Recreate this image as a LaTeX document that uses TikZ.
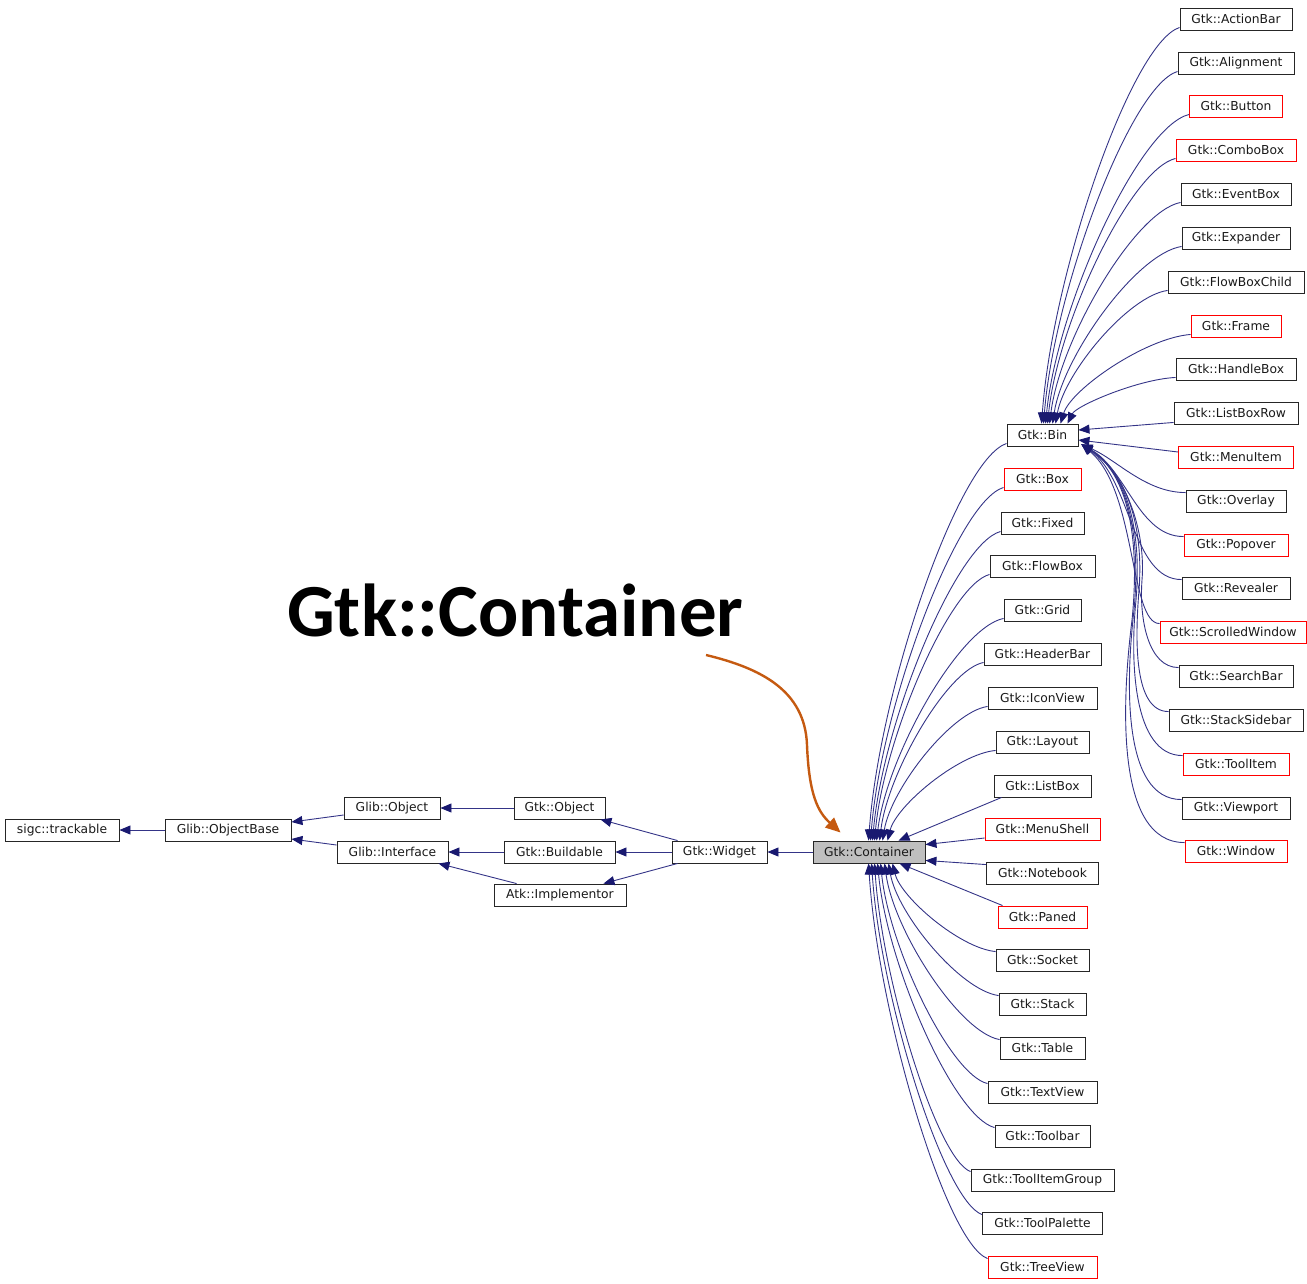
\documentclass[tikz,border=0pt]{standalone}
\usepackage{fontspec}
\newfontfamily\clsfont{DejaVu Sans}
\newfontfamily\titlefont{Carlito}
\usetikzlibrary{arrows.meta}
\definecolor{edgeblue}{RGB}{25,25,112}
\definecolor{edgeline}{RGB}{52,52,135}
\definecolor{pointer}{RGB}{197,90,17}
\definecolor{current}{RGB}{191,191,191}
\tikzset{
  cls/.style={draw=black!85, line width=0.9pt, minimum height=22, inner xsep=1pt,
    inner ysep=0pt, font=\clsfont\fontsize{12.3pt}{14pt}\selectfont, text=black!90},
  edge/.style={draw=edgeline, line width=0.9pt,
    -{Triangle[length=11pt,width=9pt,color=edgeblue,fill=edgeblue]}},
  pointerarrow/.style={draw=pointer, line width=2.4pt,
    -{Triangle[length=15pt,width=13pt]}}
}
\begin{document}
\begin{tikzpicture}[x=1pt,y=1pt]
\useasboundingbox (0,0) rectangle (1307,-1283);

% ancestors
\node[cls, minimum width=114] (track) at (62,-830) {sigc::trackable};
\node[cls, minimum width=126] (gbase) at (228,-830) {Glib::ObjectBase};
\node[cls, minimum width=96]  (globj) at (392,-808) {Glib::Object};
\node[cls, minimum width=111] (gint)  at (392.5,-852) {Glib::Interface};
\node[cls, minimum width=91]  (gtkobj) at (559.5,-808) {Gtk::Object};
\node[cls, minimum width=111] (build) at (559.5,-852) {Gtk::Buildable};
\node[cls, minimum width=132] (atk)   at (560,-895) {Atk::Implementor};
\node[cls, minimum width=95]  (widget) at (719.5,-852) {Gtk::Widget};
\node[cls, minimum width=112, fill=current] (cont) at (869,-852) {Gtk::Container};

% direct subclasses of Gtk::Container
\foreach \n/\t/\y/\w/\c in {
  bin/Bin/435/71/black!85, bx/Box/479/77/red, fx/Fixed/523/83/black!85,
  fb/FlowBox/566/105/black!85, gr/Grid/610/77/black!85, hd/HeaderBar/654/117/black!85,
  iv/IconView/698/109/black!85, ly/Layout/742/93/black!85, lb/ListBox/786/97/black!85,
  ms/MenuShell/829/115/red, nb/Notebook/873/112/black!85, pn/Paned/917/89/red,
  so/Socket/960/93/black!85, st/Stack/1004/87/black!85, tb/Table/1048/85/black!85,
  tv/TextView/1092/109/black!85, tlb/Toolbar/1136/95/black!85,
  tig/ToolItemGroup/1180/143/black!85, tp/ToolPalette/1223/120/black!85,
  tr/TreeView/1267/109/red}
  \node[cls, draw=\c, minimum width=\w] (\n) at (1042.5,-\y) {Gtk::\t};

% subclasses of Gtk::Bin
\foreach \n/\t/\y/\w/\c/\x in {
  ab/ActionBar/19/112/black!85/1236, al/Alignment/63/116/black!85/1236,
  bt/Button/106/93/red/1236, cb/ComboBox/150/120/red/1236,
  eb/EventBox/194/110/black!85/1236, xp/Expander/238/108/black!85/1236,
  fbc/FlowBoxChild/282/136/black!85/1236, fr/Frame/326/90/red/1236,
  hb/HandleBox/369/120/black!85/1236, lbr/ListBoxRow/413/124/black!85/1236,
  mi/MenuItem/457/115/red/1236, ov/Overlay/501/100/black!85/1236,
  po/Popover/545/104/red/1236, rv/Revealer/588/108/black!85/1236,
  sw/ScrolledWindow/632/146/red/1233, sb/SearchBar/676/114/black!85/1236,
  ss/StackSidebar/720/134/black!85/1236, ti/ToolItem/764/106/red/1236,
  vp/Viewport/808/108/black!85/1236, win/Window/851/102/red/1236}
  \node[cls, draw=\c, minimum width=\w] (\n) at (\x,-\y) {Gtk::\t};

% inheritance edges of the ancestor chain
\draw[edge] (gbase.west) -- (track.east);
\draw[edge] ([yshift=-7]globj.west) -- ([yshift=8]gbase.east);
\draw[edge] ([yshift=7]gint.west) -- ([yshift=-9]gbase.east);
\draw[edge] (gtkobj.west) -- (globj.east);
\draw[edge] (build.west) -- (gint.east);
\draw[edge] ([xshift=23]atk.north west) -- ([xshift=-10]gint.south east);
\draw[edge] ([xshift=6]widget.north west) -- ([xshift=-5]gtkobj.south east);
\draw[edge] (widget.west) -- (build.east);
\draw[edge] ([xshift=6]widget.south west) -- ([xshift=-23]atk.north east);
\draw[edge] (cont.west) -- (widget.east);

% Gtk::Container children above it
\foreach \n/\y/\w/\e in {bin/435/71/56, bx/479/77/58, fx/523/83/60,
  fb/566/105/62, gr/610/77/64, hd/654/117/67, iv/698/109/70, ly/742/93/75}{
  \pgfmathsetmacro\dx{1042.5-\w/2-813-\e}
  \pgfmathsetmacro\h{833-\y}
  \draw[edge] ([yshift=3]\n.south west) .. controls +(-0.35*\dx,-0.04*\h)
    and +(0.08*\dx,0.38*\h) .. ([xshift=\e]cont.north west);
}
\draw[edge] ([xshift=8]lb.south west) -- ([xshift=86]cont.north west);
\draw[edge] ([yshift=-9]ms.west) -- ([yshift=-4]cont.north east);
\draw[edge] ([yshift=-3]nb.north west) -- ([yshift=3]cont.south east);
\draw[edge] ([xshift=5]pn.north west) -- ([xshift=87]cont.south west);

% Gtk::Container children below it
\foreach \n/\y/\w/\e in {so/960/93/80, st/1004/87/76, tb/1048/85/72,
  tv/1092/109/68, tlb/1136/95/65, tig/1180/143/62, tp/1223/120/59,
  tr/1267/109/56}{
  \pgfmathsetmacro\dx{1042.5-\w/2-813-\e}
  \pgfmathsetmacro\h{\y-871}
  \draw[edge] ([yshift=-3]\n.north west) .. controls +(-0.35*\dx,0.04*\h)
    and +(0.08*\dx,-0.38*\h) .. ([xshift=\e]cont.south west);
}

% Gtk::Bin children above it
\foreach \n/\y/\w/\e/\x in {ab/19/112/35/1236, al/63/116/37/1236,
  bt/106/93/39/1236, cb/150/120/41/1236, eb/194/110/43/1236,
  xp/238/108/46/1236, fbc/282/136/49/1236, fr/326/90/54/1236,
  hb/369/120/61/1236}{
  \pgfmathsetmacro\dx{\x-\w/2-1007-\e}
  \pgfmathsetmacro\h{416-\y}
  \draw[edge] ([yshift=3]\n.south west) .. controls +(-0.35*\dx,-0.04*\h)
    and +(0.08*\dx,0.38*\h) .. ([xshift=\e]bin.north west);
}
\draw[edge] ([yshift=2]lbr.south west) -- ([yshift=5]bin.east);
\draw[edge] ([yshift=5]mi.west) -- ([yshift=-5]bin.east);

% Gtk::Bin children below it
\coordinate (binlow) at ([shift={(3,2)}]bin.south east);
\draw[edge] ([yshift=-3]ov.north west) .. controls +(-40,0) and +(35,-15) .. (binlow);
\draw[edge] ([yshift=-3]po.north west) .. controls +(-45,0) and +(45,-25) .. (binlow);
\draw[edge] ([yshift=-3]rv.north west) .. controls +(-50,0) and +(50,-35) .. (binlow);
\draw[edge] ([yshift=-3]sw.north west) .. controls +(-30,0) and +(55,-45) .. (binlow);
\draw[edge] ([yshift=-3]sb.north west) .. controls +(-30,0) and (1139,-620) .. (1142,-580)
  .. controls (1146,-530) and (1125,-472) .. (binlow);
\draw[edge] ([yshift=-3]ss.north west) .. controls +(-35,0) and (1135,-640) .. (1139,-590)
  .. controls (1144,-525) and (1126,-472) .. (binlow);
\draw[edge] ([yshift=-3]ti.north west) .. controls +(-50,0) and (1130,-660) .. (1136,-600)
  .. controls (1142,-530) and (1127,-472) .. (binlow);
\draw[edge] ([yshift=-3]vp.north west) .. controls +(-60,0) and (1126,-680) .. (1134,-610)
  .. controls (1141,-535) and (1128,-473) .. (binlow);
\draw[edge] ([yshift=-3]win.north west) .. controls +(-70,0) and (1122,-700) .. (1132,-620)
  .. controls (1140,-540) and (1129,-474) .. (binlow);

% title and pointer
\node[anchor=base west, inner sep=0pt, font=\titlefont\bfseries\fontsize{75pt}{80pt}\selectfont]
  (title) at (287,-636) {Gtk::Container};
\coordinate (pstart) at (706,-655);
\draw[pointerarrow] (pstart) .. controls (760,-668) and (805,-690) .. (807,-745)
  .. controls (809,-795) and (818,-812) .. ([shift={(28,8)}]cont.north west);
\end{tikzpicture}
\end{document}
